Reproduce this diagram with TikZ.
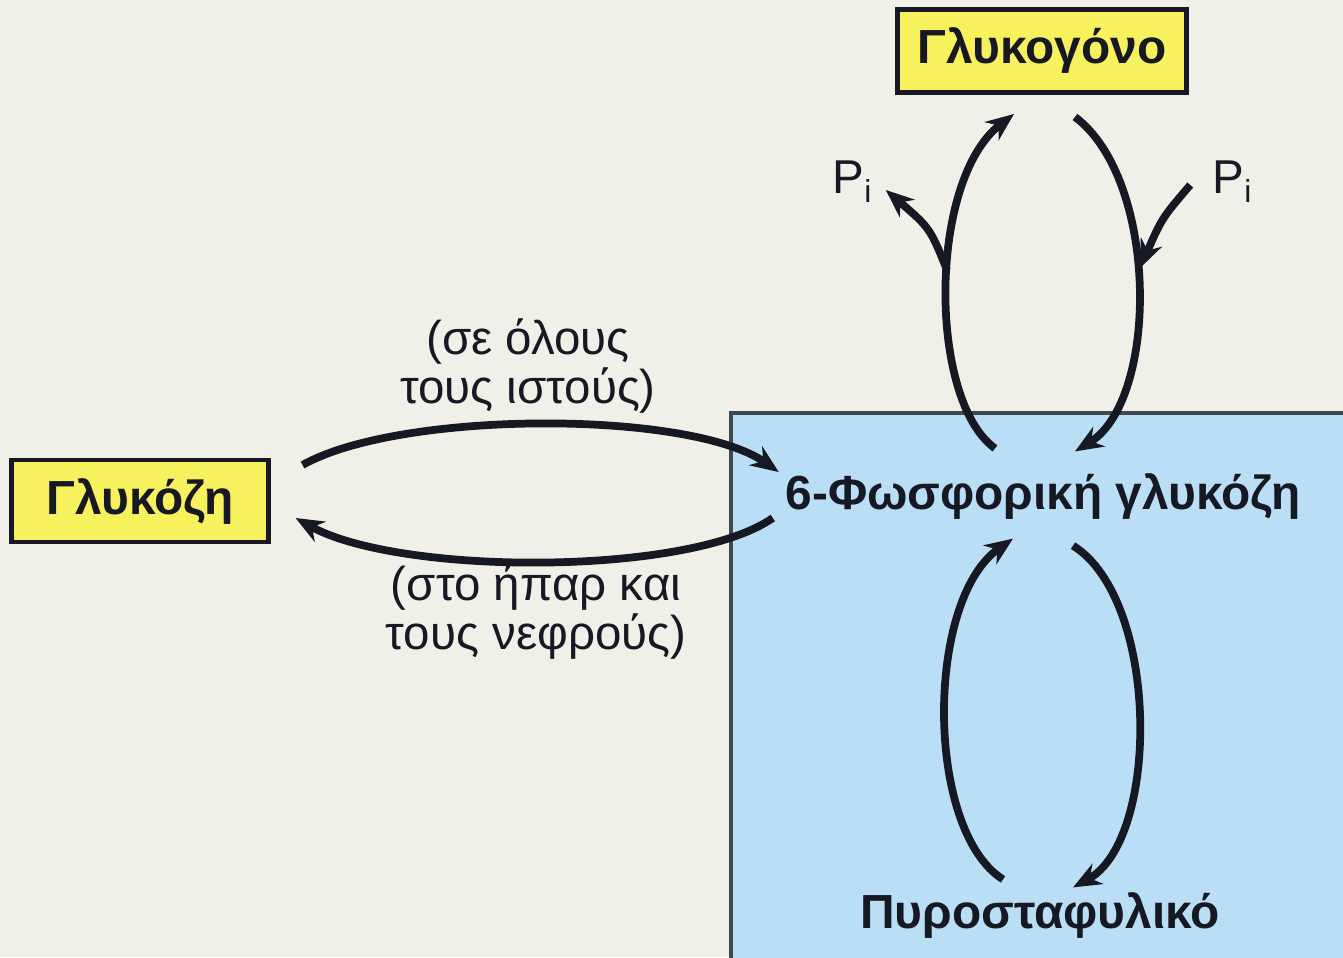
\documentclass[tikz,border=0pt]{standalone}
\usepackage{fontspec}
\setmainfont{Liberation Sans}
\usetikzlibrary{arrows.meta,calc}

\definecolor{paper}{RGB}{240,239,232}
\definecolor{cellblue}{RGB}{186,222,245}
\definecolor{boxyellow}{RGB}{246,241,92}
\definecolor{rimgray}{RGB}{62,72,80}
\definecolor{inkdark}{RGB}{22,24,36}

\tikzset{
  metbox/.style={draw=inkdark, line width=1.4pt, fill=boxyellow, inner sep=0pt,
    text=inkdark, font=\fontsize{13.6}{15}\selectfont\bfseries},
  metname/.style={text=inkdark, inner sep=0pt, font=\fontsize{13.6}{15}\selectfont\bfseries},
  tissue/.style={text=inkdark, inner sep=0pt, align=center,
    font=\fontsize{13.5}{11.6}\selectfont},
  flow/.style={draw=inkdark, line width=2.2pt,
    -{Stealth[length=8pt,width=6.5pt]}}
}

\newcommand{\phosi}{P\raisebox{-0.35ex}{\fontsize{9}{9}\selectfont i}}

\begin{document}
\begin{tikzpicture}[x=0.01cm,y=-0.01cm]
    \clip (0,0) rectangle (1343,957);
    \fill[paper] (0,0) rectangle (1343,957);
    \filldraw[fill=cellblue, draw=rimgray, line width=1.2pt] (731,413) rectangle (1360,975);

    \node[metbox, minimum width=2.88cm, minimum height=0.83cm] (glyc) at (1042,51) {Γλυκογόνο};
    \node[metbox, minimum width=2.56cm, minimum height=0.82cm] (gluc) at (140,501) {Γλυκόζη};
    \node[metname] (g6p) at (1043,497) {6-Φωσφορική γλυκόζη};
    \node[metname] (pyr) at (1040,915) {Πυροσταφυλικό};

    \node[tissue] (alltis) at (528,366) {(σε όλους\\τους ιστούς)};
    \node[tissue] (liver) at (536,612) {(στο ήπαρ και\\τους νεφρούς)};

    \node[text=inkdark, font=\fontsize{13.5}{15}\selectfont] (pleft) at (852,182) {\phosi};
    \node[text=inkdark, font=\fontsize{13.5}{15}\selectfont] (pright) at (1232,182) {\phosi};

    % glucose <-> 6-phosphate
    \draw[flow] ($(gluc.east)+(32,-36)$) .. controls (400,410) and (690,410) .. ($(g6p.west)+(-6,-25)$);
    \draw[flow] ($(g6p.west)+(-12,21)$) .. controls (690,576) and (400,576) .. ($(gluc.east)+(25,17)$);

    % glycogen loop
    \draw[flow] ($(g6p.north)+(-48,-25)$) .. controls (928,400) and (928,180) .. ($(glyc.south)+(-28,19)$);
    \draw[flow] ($(glyc.south)+(33,22)$) .. controls (1159,180) and (1159,400) .. ($(g6p.north)+(32,-22)$);
    \draw[flow] (947,270) .. controls (930,228) .. ($(pleft.east)+(2,8)$);
    \draw[flow] ($(pright.west)+(-10,3)$) .. controls (1162,218) .. (1140,268);

    % pyruvate loop
    \draw[flow] ($(pyr.north)+(-37,-12)$) .. controls (925,830) and (925,600) .. ($(g6p.south)+(-30,18)$);
    \draw[flow] ($(g6p.south)+(30,25)$) .. controls (1160,600) and (1160,840) .. ($(pyr.north)+(33,-4)$);
\end{tikzpicture}
\end{document}
